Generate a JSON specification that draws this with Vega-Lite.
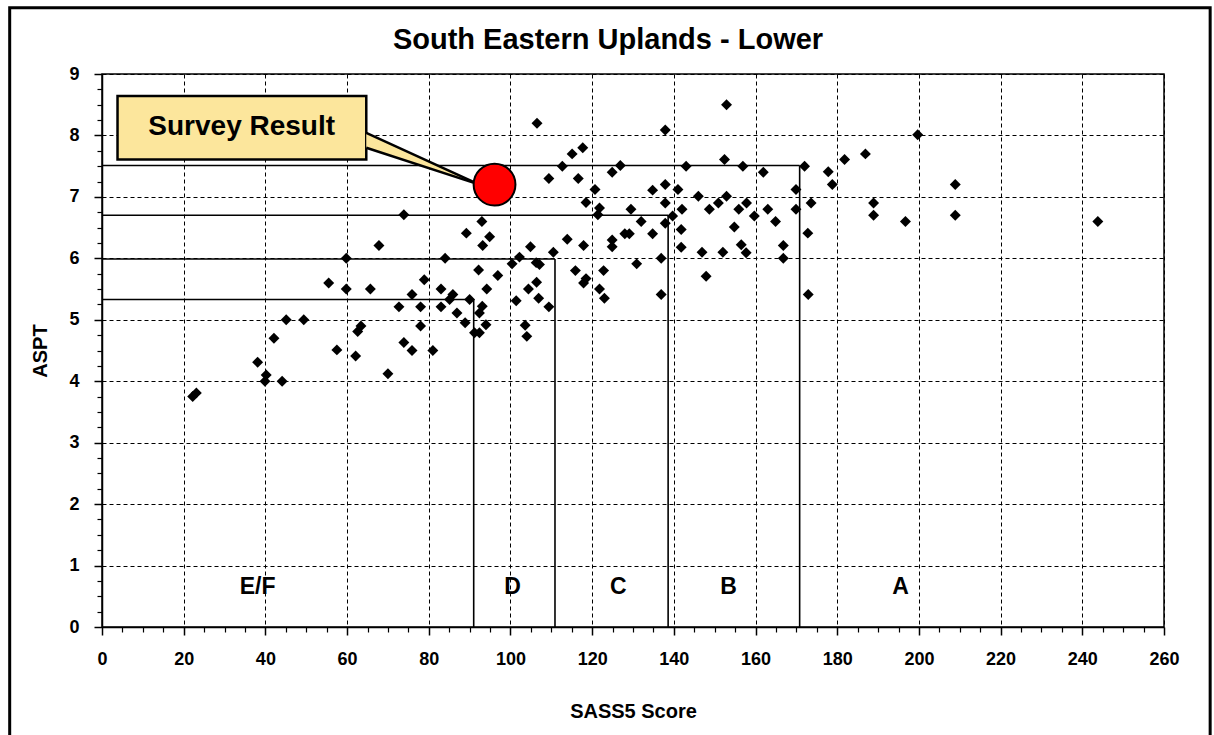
{
  "$schema": "https://vega.github.io/schema/vega-lite/v6.json",
  "width": 1062,
  "height": 553,
  "autosize": {"type": "none"},
  "padding": {"left": 102, "top": 74, "right": 50, "bottom": 108},
  "background": "white",
  "config": {"view": {"stroke": "black", "strokeWidth": 1.5}, "font": "Liberation Sans"},
  "title": {"text": "South Eastern Uplands - Lower", "font": "Liberation Sans", "fontSize": 29, "fontWeight": "bold", "color": "black", "anchor": "middle", "baseline": "alphabetic", "offset": -72, "dx": -25},
  "resolve": {"axis": {"x": "independent", "y": "independent"}},
  "datasets": {
    "points": [
      {"x":22.2,"y":3.75},{"x":23.1,"y":3.81},{"x":38.1,"y":4.31},{"x":40.2,"y":4.1},{"x":39.9,"y":4.0},{"x":44.1,"y":4.0},{"x":42.1,"y":4.7},{"x":45.1,"y":5.0},{"x":49.4,"y":5.0},{"x":55.5,"y":5.6},
      {"x":57.5,"y":4.51},{"x":59.8,"y":6.0},{"x":59.8,"y":5.5},{"x":62.1,"y":4.41},{"x":62.6,"y":4.81},{"x":63.4,"y":4.9},{"x":65.7,"y":5.5},{"x":67.8,"y":6.21},{"x":70.0,"y":4.12},{"x":72.7,"y":5.21},
      {"x":73.9,"y":6.71},{"x":73.9,"y":4.63},{"x":75.9,"y":4.5},{"x":75.9,"y":5.41},{"x":78.0,"y":5.21},{"x":78.0,"y":4.9},{"x":78.9,"y":5.65},{"x":81.0,"y":4.5},{"x":83.0,"y":5.5},{"x":83.0,"y":5.21},
      {"x":84.0,"y":6.0},{"x":85.1,"y":5.33},{"x":85.9,"y":5.41},{"x":86.9,"y":5.11},{"x":88.9,"y":4.95},{"x":89.2,"y":6.41},{"x":90.0,"y":5.33},{"x":91.2,"y":4.79},{"x":92.4,"y":4.79},{"x":92.2,"y":5.81},
      {"x":92.4,"y":5.11},{"x":93.1,"y":5.22},{"x":93.0,"y":6.6},{"x":93.2,"y":6.21},{"x":94.0,"y":4.92},{"x":94.2,"y":5.5},{"x":94.9,"y":6.35},{"x":96.9,"y":5.72},{"x":100.4,"y":5.91},{"x":102.2,"y":6.02},
      {"x":101.4,"y":5.31},{"x":103.6,"y":4.91},{"x":104.0,"y":4.73},{"x":104.4,"y":5.5},{"x":104.9,"y":6.19},{"x":106.3,"y":5.93},{"x":107.1,"y":5.9},{"x":106.4,"y":5.61},{"x":106.9,"y":5.35},{"x":106.5,"y":8.2},
      {"x":109.4,"y":7.3},{"x":109.4,"y":5.21},{"x":110.5,"y":6.1},{"x":112.7,"y":7.5},{"x":113.9,"y":6.31},{"x":115.1,"y":7.7},{"x":115.9,"y":5.8},{"x":116.6,"y":7.3},{"x":117.7,"y":7.8},{"x":117.9,"y":6.21},
      {"x":117.9,"y":5.6},{"x":118.5,"y":5.67},{"x":118.5,"y":6.91},{"x":120.7,"y":7.12},{"x":121.4,"y":6.71},{"x":121.8,"y":6.82},{"x":121.8,"y":5.5},{"x":122.8,"y":5.8},{"x":123.0,"y":5.35},{"x":124.9,"y":7.4},
      {"x":124.9,"y":6.3},{"x":124.9,"y":6.19},{"x":126.9,"y":7.51},{"x":128.0,"y":6.4},{"x":129.1,"y":6.4},{"x":129.5,"y":6.8},{"x":130.9,"y":5.91},{"x":132.0,"y":6.6},{"x":134.8,"y":7.11},{"x":134.8,"y":6.4},
      {"x":136.9,"y":6.0},{"x":136.9,"y":5.41},{"x":137.9,"y":8.09},{"x":137.9,"y":7.2},{"x":137.9,"y":6.9},{"x":137.9,"y":6.57},{"x":139.7,"y":6.69},{"x":141.0,"y":7.12},{"x":141.8,"y":6.47},{"x":141.8,"y":6.18},
      {"x":142.0,"y":6.8},{"x":143.0,"y":7.5},{"x":146.0,"y":7.01},{"x":146.9,"y":6.1},{"x":147.9,"y":5.71},{"x":148.7,"y":6.8},{"x":150.9,"y":6.9},{"x":152.0,"y":6.1},{"x":152.4,"y":7.61},{"x":152.9,"y":8.5},
      {"x":152.9,"y":7.01},{"x":154.8,"y":6.51},{"x":155.9,"y":6.8},{"x":156.5,"y":6.22},{"x":156.9,"y":7.5},{"x":157.7,"y":6.09},{"x":157.8,"y":6.9},{"x":159.7,"y":6.69},{"x":161.9,"y":7.4},{"x":163.0,"y":6.8},
      {"x":164.9,"y":6.6},{"x":166.8,"y":6.21},{"x":166.8,"y":6.0},{"x":169.9,"y":7.12},{"x":169.9,"y":6.8},{"x":172.0,"y":7.5},{"x":172.8,"y":6.41},{"x":172.9,"y":5.41},{"x":173.6,"y":6.9},{"x":177.8,"y":7.41},
      {"x":178.8,"y":7.2},{"x":181.8,"y":7.61},{"x":186.9,"y":7.7},{"x":188.9,"y":6.9},{"x":188.9,"y":6.7},{"x":196.7,"y":6.6},{"x":199.7,"y":8.01},{"x":208.9,"y":7.2},{"x":208.9,"y":6.7},{"x":243.8,"y":6.6}
    ],
    "bounds": [
      {"x":0,"x2":170.8,"y":7.51,"y2":7.51},{"x":0,"x2":138.6,"y":6.7,"y2":6.7},{"x":0,"x2":110.9,"y":5.99,"y2":5.99},{"x":0,"x2":91.0,"y":5.33,"y2":5.33},
      {"x":170.8,"x2":170.8,"y":0,"y2":7.51},{"x":138.6,"x2":138.6,"y":0,"y2":6.7},{"x":110.9,"x2":110.9,"y":0,"y2":5.99},{"x":91.0,"x2":91.0,"y":0,"y2":5.33}
    ],
    "classes": [
      {"x":38.1,"y":0.65,"label":"E/F"},{"x":100.5,"y":0.65,"label":"D"},{"x":126.4,"y":0.65,"label":"C"},{"x":153.4,"y":0.65,"label":"B"},{"x":195.5,"y":0.65,"label":"A"}
    ],
    "survey": [{"x":96.1,"y":7.2}],
    "box": [{"x":3.8,"x2":64.7,"y":7.61,"y2":8.64,"label":"Survey Result","tx":34.2,"ty":8.13}],
    "wedge": [{"x":64.7,"y":7.8,"y2":8.04},{"x":92.4,"y":7.2,"y2":7.2}],
    "wedgeEdges": [{"x":64.7,"y":8.04,"x2":92.4,"y2":7.2},{"x":64.7,"y":7.8,"x2":92.4,"y2":7.2}],
    "frame": [{"x":-22.6,"x2":271.3,"y":10.08,"y2":-2}]
  },
  "layer": [
    {
      "data": {"name": "points"},
      "mark": {"type": "point", "shape": "diamond", "filled": true, "color": "black", "size": 120, "opacity": 1},
      "encoding": {
        "x": {
          "field": "x", "type": "quantitative",
          "scale": {"domain": [0, 260], "nice": false, "zero": false},
          "axis": {
            "orient": "bottom",
            "values": [0,20,40,60,80,100,120,140,160,180,200,220,240,260],
            "tickSize": 8,
            "grid": true, "gridColor": "black", "gridDash": [4, 3], "gridWidth": 1,
            "domainColor": "black", "domainWidth": 1.5, "tickColor": "black", "tickWidth": 1.5,
            "labelFont": "Liberation Sans", "labelFontWeight": "bold", "labelFontSize": 18, "labelColor": "black", "labelPadding": 15, "labelOverlap": false, "labelFlush": false,
            "title": "SASS5 Score", "titleFont": "Liberation Sans", "titleFontSize": 20, "titleFontWeight": "bold", "titleColor": "black", "titlePadding": 33
          }
        },
        "y": {
          "field": "y", "type": "quantitative",
          "scale": {"domain": [0, 9], "nice": false, "zero": false},
          "axis": {
            "orient": "left",
            "values": [0,1,2,3,4,5,6,7,8,9],
            "tickSize": 8,
            "grid": true, "gridColor": "black", "gridDash": [4, 3], "gridWidth": 1,
            "domainColor": "black", "domainWidth": 1.5, "tickColor": "black", "tickWidth": 1.5,
            "labelFont": "Liberation Sans", "labelFontWeight": "bold", "labelFontSize": 18, "labelColor": "black", "labelPadding": 15, "labelOverlap": false, "labelFlush": false,
            "title": "ASPT", "titleFont": "Liberation Sans", "titleFontSize": 20, "titleFontWeight": "bold", "titleColor": "black", "titlePadding": 18
          }
        }
      }
    },
    {
      "data": {"name": "bounds"},
      "mark": {"type": "rule", "color": "black", "strokeWidth": 1.6},
      "encoding": {
        "x": {
          "field": "x", "type": "quantitative",
          "scale": {"domain": [0, 260], "nice": false, "zero": false},
          "axis": {
            "orient": "bottom",
            "values": [5,10,15,25,30,35,45,50,55,65,70,75,85,90,95,105,110,115,125,130,135,145,150,155,165,170,175,185,190,195,205,210,215,225,230,235,245,250,255],
            "tickSize": 5, "tickColor": "black", "tickWidth": 1.2,
            "labels": false, "domain": false, "grid": false, "title": null
          }
        },
        "x2": {"field": "x2"},
        "y": {
          "field": "y", "type": "quantitative",
          "scale": {"domain": [0, 9], "nice": false, "zero": false},
          "axis": {
            "orient": "left",
            "values": [0.25,0.5,0.75,1.25,1.5,1.75,2.25,2.5,2.75,3.25,3.5,3.75,4.25,4.5,4.75,5.25,5.5,5.75,6.25,6.5,6.75,7.25,7.5,7.75,8.25,8.5,8.75],
            "tickSize": 5, "tickColor": "black", "tickWidth": 1.2,
            "labels": false, "domain": false, "grid": false, "title": null
          }
        },
        "y2": {"field": "y2"}
      }
    },
    {
      "data": {"name": "frame"},
      "mark": {"type": "rect", "fill": null, "fillOpacity": 0, "stroke": "black", "strokeWidth": 3},
      "encoding": {
        "x": {"field": "x", "type": "quantitative", "scale": {"domain": [0, 260], "nice": false, "zero": false}, "axis": null},
        "x2": {"field": "x2"},
        "y": {"field": "y", "type": "quantitative", "scale": {"domain": [0, 9], "nice": false, "zero": false}, "axis": null},
        "y2": {"field": "y2"}
      }
    },
    {
      "data": {"name": "classes"},
      "mark": {"type": "text", "font": "Liberation Sans", "fontWeight": "bold", "fontSize": 23, "color": "black", "align": "center", "baseline": "middle"},
      "encoding": {
        "x": {"field": "x", "type": "quantitative", "axis": null},
        "y": {"field": "y", "type": "quantitative", "axis": null},
        "text": {"field": "label"}
      }
    },
    {
      "data": {"name": "box"},
      "mark": {"type": "rect", "fill": "#FCE69C", "stroke": "black", "strokeWidth": 2.5},
      "encoding": {
        "x": {"field": "x", "type": "quantitative", "axis": null},
        "x2": {"field": "x2"},
        "y": {"field": "y", "type": "quantitative", "axis": null},
        "y2": {"field": "y2"}
      }
    },
    {
      "data": {"name": "wedge"},
      "mark": {"type": "area", "fill": "#FCE69C", "opacity": 1},
      "encoding": {
        "x": {"field": "x", "type": "quantitative", "axis": null},
        "y": {"field": "y", "type": "quantitative", "axis": null},
        "y2": {"field": "y2"}
      }
    },
    {
      "data": {"name": "wedgeEdges"},
      "mark": {"type": "rule", "color": "black", "strokeWidth": 2.5},
      "encoding": {
        "x": {"field": "x", "type": "quantitative", "axis": null},
        "x2": {"field": "x2"},
        "y": {"field": "y", "type": "quantitative", "axis": null},
        "y2": {"field": "y2"}
      }
    },
    {
      "data": {"name": "survey"},
      "mark": {"type": "point", "shape": "circle", "filled": true, "fill": "#FF0000", "stroke": "black", "strokeWidth": 2, "size": 1750, "opacity": 1},
      "encoding": {
        "x": {"field": "x", "type": "quantitative", "axis": null},
        "y": {"field": "y", "type": "quantitative", "axis": null}
      }
    },
    {
      "data": {"name": "box"},
      "mark": {"type": "text", "font": "Liberation Sans", "fontWeight": "bold", "fontSize": 28, "color": "black", "align": "center", "baseline": "middle"},
      "encoding": {
        "x": {"field": "tx", "type": "quantitative", "axis": null},
        "y": {"field": "ty", "type": "quantitative", "axis": null},
        "text": {"field": "label"}
      }
    }
  ]
}
